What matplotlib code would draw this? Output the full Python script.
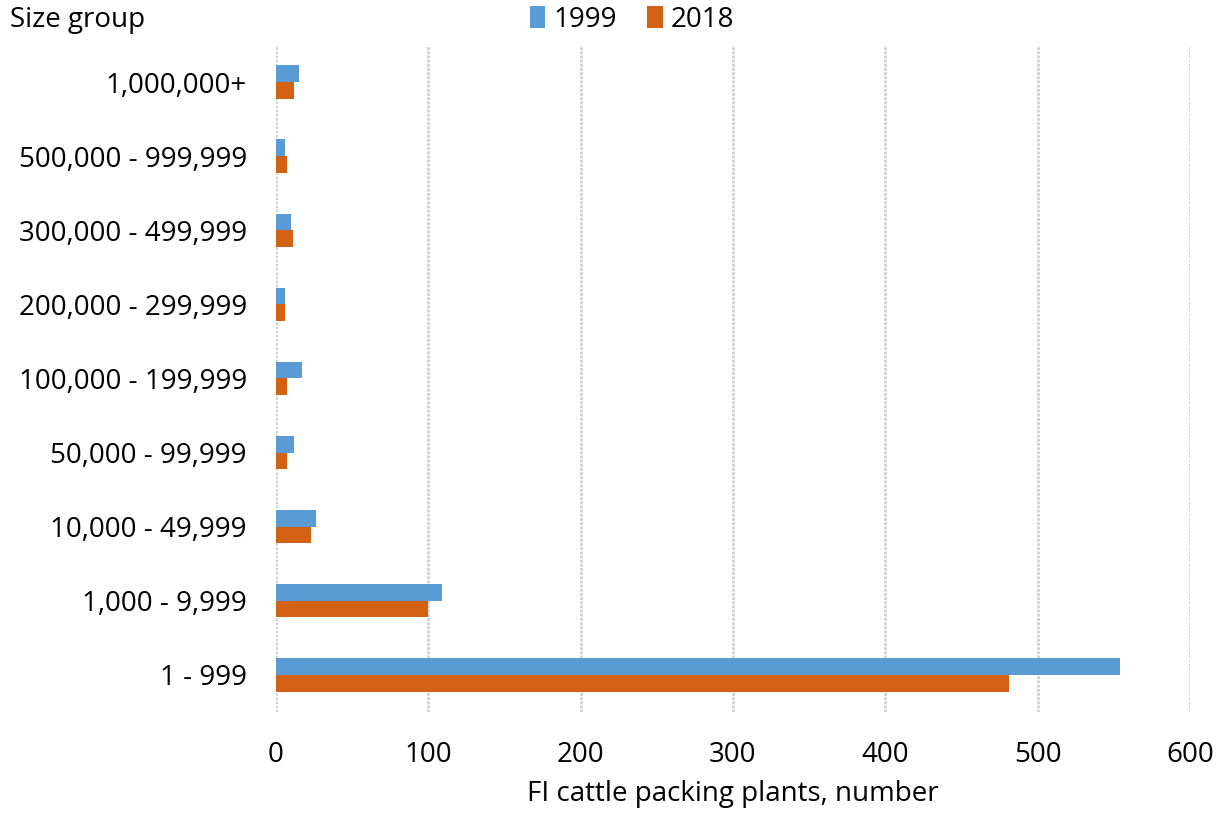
import matplotlib
matplotlib.use("Agg")
import matplotlib.pyplot as plt
import numpy as np

plt.rcParams['font.family'] = ['Open Sans', 'DejaVu Sans']

size_groups = ["1,000,000+", "500,000 - 999,999", "300,000 - 499,999",
               "200,000 - 299,999", "100,000 - 199,999", "50,000 - 99,999",
               "10,000 - 49,999", "1,000 - 9,999", "1 - 999"]
plants_1999 = [15, 6, 10, 6, 17, 12, 26, 109, 554]
plants_2018 = [12, 7, 11, 6, 7, 7, 23, 100, 481]
x_ticks = [0, 100, 200, 300, 400, 500, 600]

blue = "#5B9BD5"
orange = "#D36113"
fs = 20

fig = plt.figure(figsize=(12.17, 8.15), dpi=100)
ax = fig.add_axes([0.2268, 0.1264, 0.7510, 0.8184])

y = np.arange(len(size_groups))
h = 0.225
ax.barh(y - h / 2, plants_1999, height=h, color=blue, label="1999", zorder=3)
ax.barh(y + h / 2, plants_2018, height=h, color=orange, label="2018", zorder=3)

ax.set_ylim(len(size_groups) - 0.5, -0.5)
ax.set_yticks(y)
ax.set_yticklabels(size_groups, fontsize=fs)
ax.set_xlim(0, 600)
ax.set_xticks(x_ticks)
ax.set_xticklabels([str(t) for t in x_ticks], fontsize=fs)
ax.tick_params(axis='both', length=0)
ax.tick_params(axis='y', pad=21)
ax.tick_params(axis='x', pad=21)

for s in ax.spines.values():
    s.set_visible(False)
ax.xaxis.grid(True, color="#d0d0d0", linewidth=2, linestyle=(0, (1, 0.5)), zorder=0)
ax.set_axisbelow(True)

ax.set_xlabel("FI cattle packing plants, number", fontsize=fs, labelpad=8)

fig.text(10 / 1217, 1 - 20 / 815, "Size group", fontsize=fs, ha="left", va="center")

leg = fig.legend(loc="center", bbox_to_anchor=(632 / 1217, 1 - 20 / 815), ncol=2,
                 frameon=False, fontsize=fs, handlelength=0.55, handleheight=0.85,
                 handletextpad=0.3, columnspacing=1.1)

fig.savefig("out.png", dpi=100)
